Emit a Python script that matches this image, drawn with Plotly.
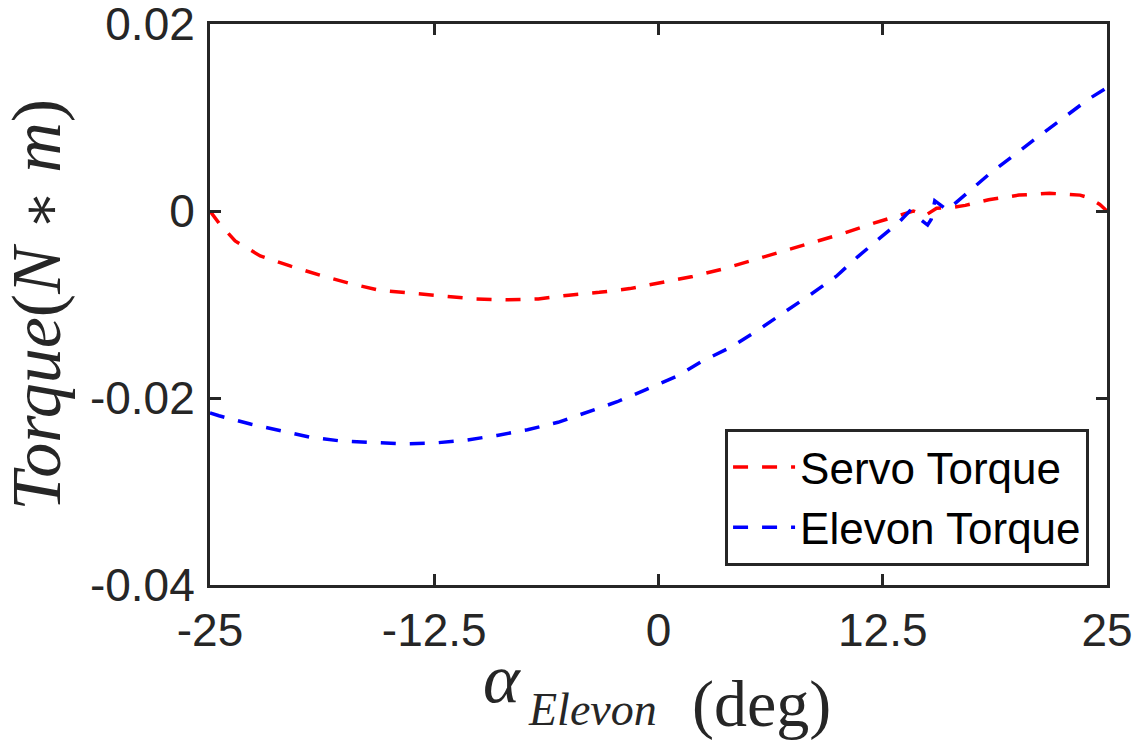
import plotly.graph_objects as go

# ---- data ----
x_servo = [-25, -24.5, -23.6, -22.2, -20.5, -18.8, -17.1, -15.5, -13.7, -11.9,
           -10.2, -8.5, -6.7, -5.0, -3.3, -1.6, 0.0, 1.9, 3.6, 5.2,
           6.9, 8.6, 10.3, 12.0, 13.6, 14.2, 14.85, 15.5, 16.4, 17.1,
           18.4, 20.1, 21.8, 23.5, 24.0, 24.6, 25.0]
y_servo = [0.0, -0.0013, -0.0032, -0.0048, -0.0059, -0.0069, -0.0078, -0.0085, -0.0088, -0.0091,
           -0.0094, -0.0095, -0.0094, -0.0090, -0.0087, -0.0083, -0.0077, -0.0070, -0.0062, -0.0053,
           -0.0044, -0.0034, -0.0024, -0.0013, -0.0003, 0.0000, -0.0005, 0.0003, 0.0004, 0.0006,
           0.0012, 0.0017, 0.0019, 0.0017, 0.0014, 0.0007, 0.0000]

x_elevon = [-25, -24.5, -22.7, -21.1, -19.4, -17.7, -15.9, -14.2, -12.4, -10.7,
            -9.0, -7.3, -5.6, -3.9, -2.3, -0.7, 1.0, 2.4, 4.0, 5.5,
            7.0, 8.5, 9.9, 11.1, 12.4, 13.4, 14.0, 14.7, 15.0, 15.2,
            15.4, 16.1, 16.8, 17.5, 18.4, 19.8, 21.2, 22.6, 24.0, 25.0]
y_elevon = [-0.0216, -0.0219, -0.0228, -0.0235, -0.0242, -0.0246, -0.0248, -0.0249, -0.0248, -0.0245,
            -0.0240, -0.0234, -0.0226, -0.0215, -0.0204, -0.0191, -0.0177, -0.0161, -0.0146, -0.0128,
            -0.0109, -0.0089, -0.0070, -0.0049, -0.0028, -0.0012, 0.0000, -0.0010, -0.0015, -0.0009,
            0.0011, 0.0001, 0.0013, 0.0024, 0.0039, 0.0060, 0.0080, 0.0100, 0.0120, 0.0132]

x_tickvals = [-25, -12.5, 0, 12.5, 25]
x_ticktext = ["-25", "-12.5", "0", "12.5", "25"]
y_tickvals = [-0.04, -0.02, 0, 0.02]
y_ticktext = ["-0.04", "-0.02", "0", "0.02"]

series_names = ["Servo Torque", "Elevon Torque"]

AX = "#262626"
DASH = "15px,14px"

fig = go.Figure()
fig.add_trace(go.Scatter(x=x_servo, y=y_servo, mode="lines", name=series_names[0],
                         line=dict(color="#FF0000", width=3.5, dash=DASH)))
fig.add_trace(go.Scatter(x=x_elevon, y=y_elevon, mode="lines", name=series_names[1],
                         line=dict(color="#0000FF", width=3.5, dash=DASH)))

tickfont = dict(family="Liberation Sans, Arial, sans-serif", size=46, color=AX)

fig.update_xaxes(range=[-25, 25], tickvals=x_tickvals, ticktext=x_ticktext,
                 showline=True, linewidth=3, linecolor=AX, mirror="ticks",
                 ticks="inside", ticklen=11, tickwidth=3, tickcolor=AX,
                 showgrid=False, zeroline=False, tickfont=tickfont,
                 ticklabelstandoff=3, ticklabeloverflow="allow", automargin=False)
fig.update_yaxes(range=[-0.04, 0.02], tickvals=y_tickvals, ticktext=y_ticktext,
                 showline=True, linewidth=3, linecolor=AX, mirror="ticks",
                 ticks="inside", ticklen=11, tickwidth=3, tickcolor=AX,
                 showgrid=False, zeroline=False, tickfont=tickfont,
                 ticklabelstandoff=3, ticklabeloverflow="allow", automargin=False)

serif = "Liberation Serif, Times New Roman, serif"
# y-axis label
fig.add_annotation(text="<i>Torque</i>(<i>N</i> <span style=\"font-family:DejaVu Serif;font-size:58px\">∗</span> <i>m</i>)",
                   textangle=-90,
                   xref="paper", yref="paper", x=-0.193, y=0.5,
                   xanchor="center", yanchor="middle", showarrow=False,
                   font=dict(family=serif, size=70, color=AX))
# x-axis label: alpha, subscript, unit
fig.add_annotation(text="<i>α</i>", xref="paper", yref="paper", x=0.3255, y=-0.166,
                   xanchor="center", yanchor="middle", showarrow=False,
                   font=dict(family=serif, size=70, color=AX))
fig.add_annotation(text="<i>Elevon</i>", xref="paper", yref="paper", x=0.352, y=-0.222,
                   xanchor="left", yanchor="middle", showarrow=False,
                   font=dict(family=serif, size=46, color=AX))
fig.add_annotation(text="(deg)", xref="paper", yref="paper", x=0.615, y=-0.212,
                   xanchor="center", yanchor="middle", showarrow=False,
                   font=dict(family=serif, size=66, color=AX))

fig.update_layout(
    width=1146, height=742,
    margin=dict(l=210, r=39, t=24, b=157, autoexpand=False),
    paper_bgcolor="white", plot_bgcolor="white",
    showlegend=True,
    legend=dict(x=0.98, y=0.034, xanchor="right", yanchor="bottom",
                bgcolor="white", bordercolor=AX, borderwidth=3,
                font=dict(family="Liberation Sans, Arial, sans-serif", size=44, color="black"),
                itemwidth=62, tracegroupgap=0),
)

fig.write_html("out.html")
